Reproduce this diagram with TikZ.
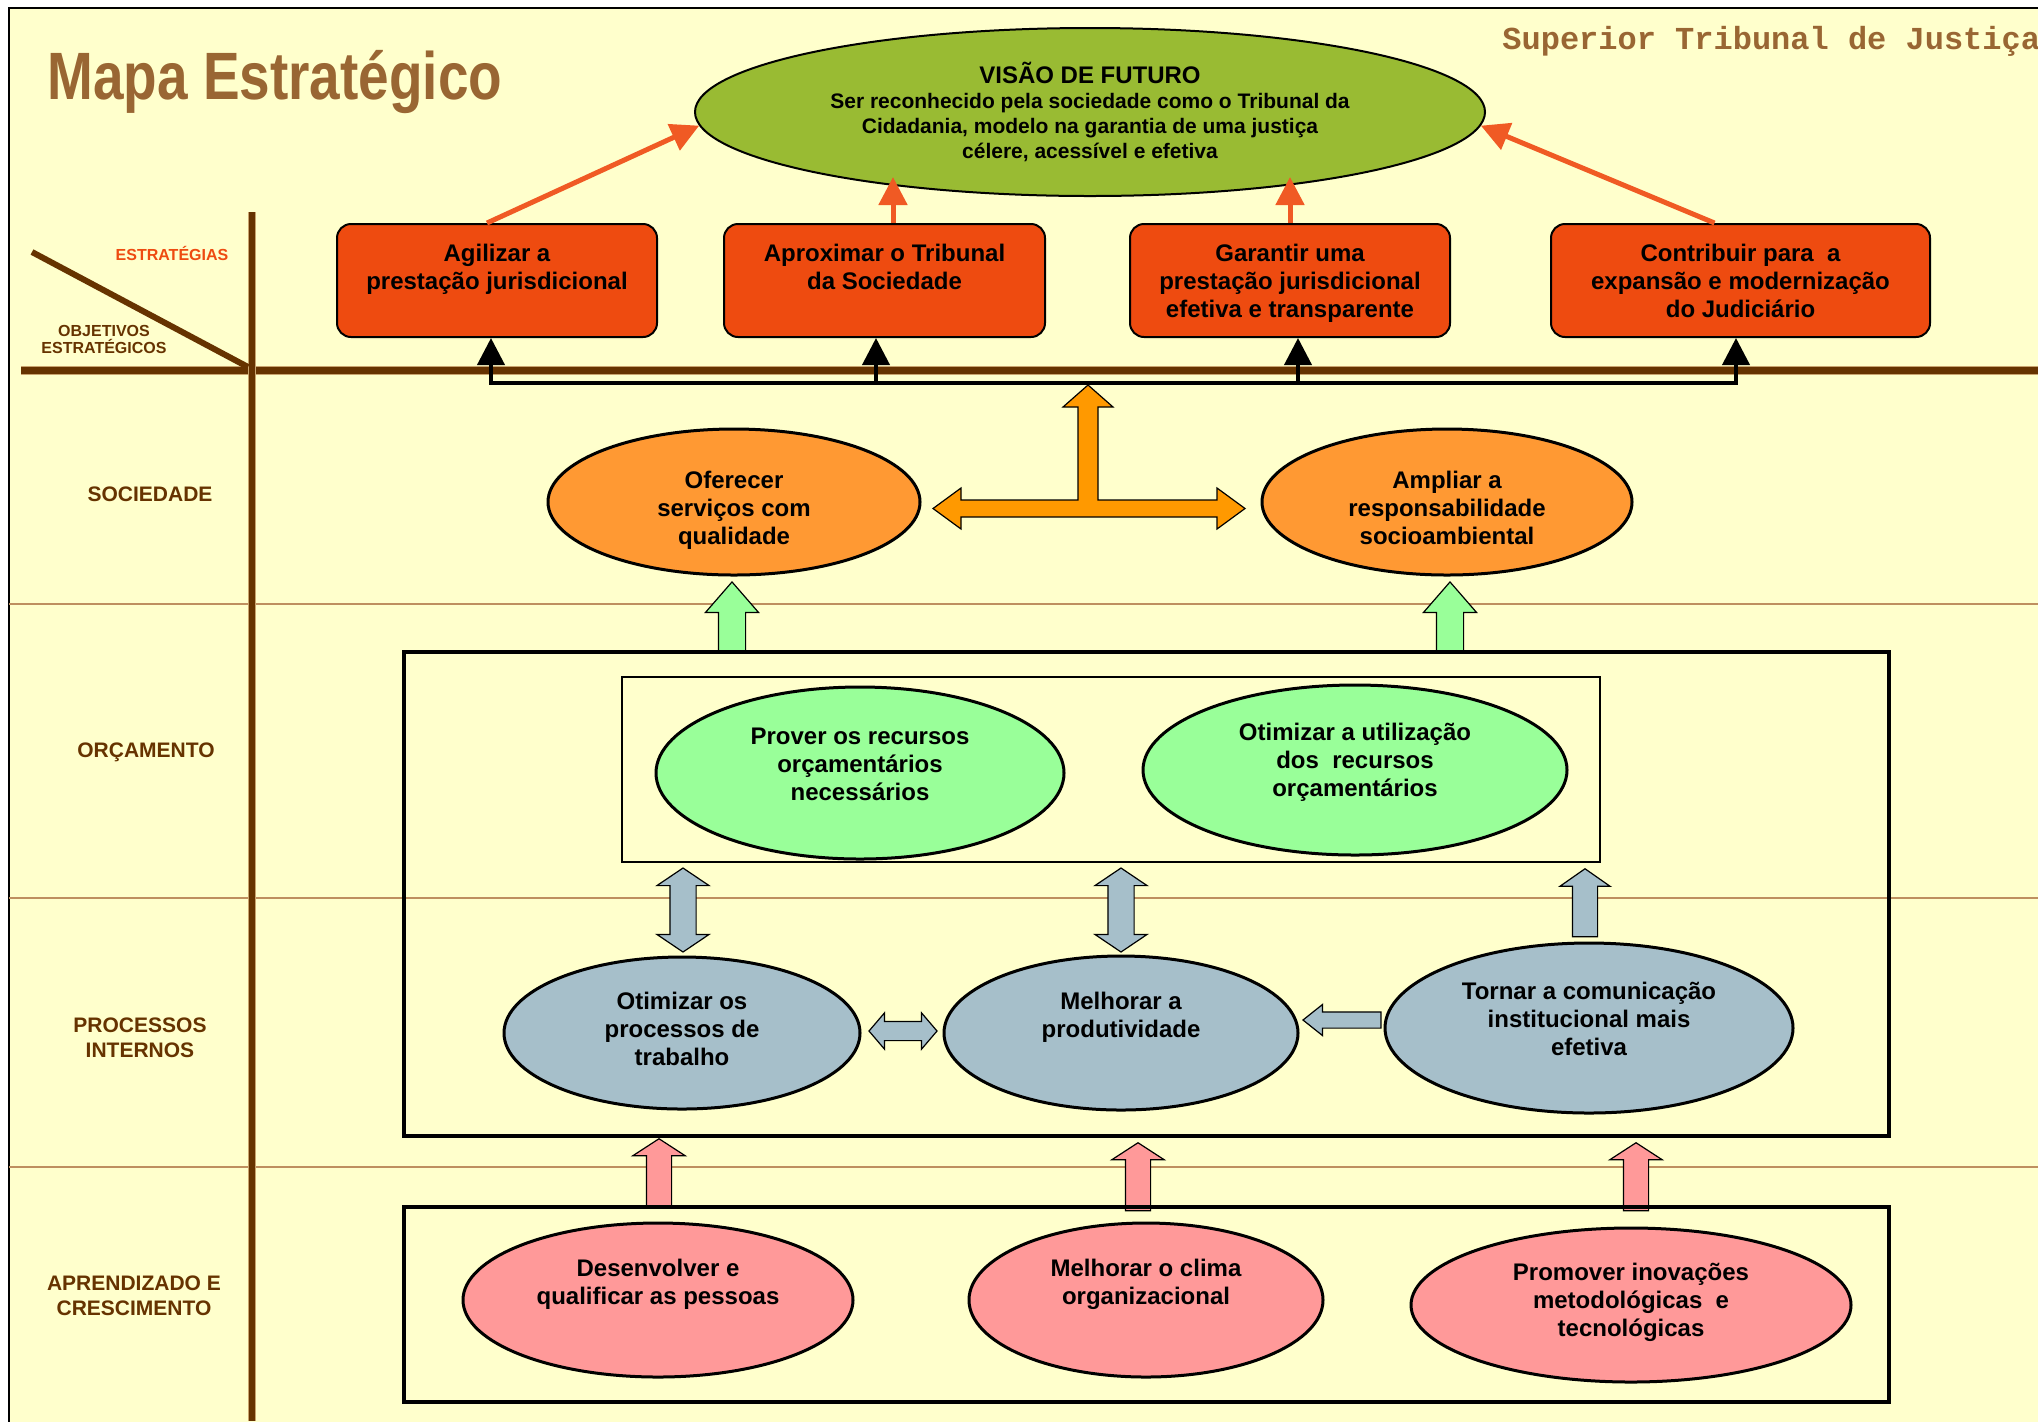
\documentclass[tikz,border=0pt]{standalone}
\usepackage{fontspec}
\setmainfont{Liberation Sans}
\newfontfamily\titlefont[FakeStretch=0.82]{Liberation Sans}
\newfontfamily\courierfont{Liberation Mono}
\usetikzlibrary{shapes.geometric,shapes.arrows,arrows.meta}

\definecolor{stjbg}{HTML}{FFFFCC}
\definecolor{stjbrown}{HTML}{663300}
\definecolor{stjtan}{HTML}{996633}
\definecolor{stjsep}{HTML}{BE8F5F}
\definecolor{stjedge}{HTML}{C9A46E}
\definecolor{stjred}{HTML}{EE4B10}
\definecolor{stjline}{HTML}{F05A24}
\definecolor{stjvisao}{HTML}{99BB33}
\definecolor{stjorange}{HTML}{FF9933}
\definecolor{stjamber}{HTML}{FF9900}
\definecolor{stjgreen}{HTML}{99FF99}
\definecolor{stjblue}{HTML}{A6BFCA}
\definecolor{stjpink}{HTML}{FF9999}

\tikzset{
  txt/.style={font=\bfseries\fontsize{12pt}{14pt}\selectfont, align=center},
  side/.style={font=\bfseries\fontsize{10.5pt}{12.5pt}\selectfont, align=center, text=stjbrown},
  strat/.style={txt, draw, line width=1pt, fill=stjred, rounded corners=7pt, minimum height=56.5pt},
  objective/.style={txt, ellipse, draw, line width=1.5pt},
  orangearrow/.style={-{Triangle[length=14pt,width=14pt]}, line width=2.5pt, draw=stjline, fill=stjline},
  blackarrow/.style={-{Triangle[length=13.5pt,width=13.5pt]}, line width=2pt},
  fatarrow/.style={draw, line width=0.6pt, inner xsep=0pt, single arrow, single arrow head indent=0pt, anchor=tip},
  fatdouble/.style={draw, line width=0.6pt, inner xsep=0pt, double arrow, double arrow head indent=0pt},
}

\begin{document}
\begin{tikzpicture}[x=0.5pt, y=-0.5pt, every node/.style={inner sep=0pt}]
      \useasboundingbox (0,0) rectangle (2038,1421);
      \clip (0,0) rectangle (2038,1421);
      % page and frame
      \fill[white] (0,0) rectangle (2038,1421);
      \draw[line width=0.75pt, fill=stjbg] (9,8) rectangle (2100,1500);
      % perspective separators
      \foreach \y in {604,898,1167}
        \draw[stjsep, line width=1pt] (9,\y) -- (2038,\y);
      % axes
      \draw[stjedge, line width=4.5pt] (21,370) -- (2038,370);
      \draw[stjbrown, line width=3.5pt] (21,370) -- (2038,370);
      \draw[stjedge, line width=4pt] (252,212) -- (252,1421);
      \draw[stjbrown, line width=3pt] (252,212) -- (252,1421);
      \draw[stjbrown, line width=3pt] (32,252) -- (248,367);
      % axis labels
      \node[font=\bfseries\fontsize{8pt}{8.5pt}\selectfont, text=stjred] (lblestr) at (172,253) {ESTRATÉGIAS};
      \node[font=\bfseries\fontsize{8pt}{8.5pt}\selectfont, align=center, text=stjbrown] (lblobj) at (104,339) {OBJETIVOS\\ESTRATÉGICOS};
      \node[side] (lblsoc) at (150,494) {SOCIEDADE};
      \node[side] (lblorc) at (146,752) {ORÇAMENTO};
      \node[side] (lblproc) at (140,1038) {PROCESSOS\\INTERNOS};
      \node[side] (lblapr) at (134,1296) {APRENDIZADO E\\CRESCIMENTO};
      % headings
      \node[anchor=base west, text=stjtan, font=\titlefont\bfseries\fontsize{33.5pt}{40pt}\selectfont] (titulo) at (47,99) {Mapa Estratégico};
      \node[anchor=base west, text=stjtan, font=\courierfont\bfseries\fontsize{16pt}{18pt}\selectfont] (stj) at (1502,49) {Superior Tribunal de Justiça};
      % vision
      \node[objective, line width=1pt, fill=stjvisao, minimum width=395pt, minimum height=84pt, font=\bfseries\fontsize{10.5pt}{12.5pt}\selectfont] (visao) at (1090,112)
        {{\fontsize{12pt}{14pt}\selectfont VISÃO DE FUTURO}\\Ser reconhecido pela sociedade como o Tribunal da\\Cidadania, modelo na garantia de uma justiça\\célere, acessível e efetiva};
      % strategies
      \node[strat, minimum width=160pt] (agilizar) at (497,280.5) {Agilizar a\\prestação jurisdicional\\\mbox{}};
      \node[strat, minimum width=160.5pt] (aproximar) at (884.5,280.5) {Aproximar o Tribunal\\da Sociedade\\\mbox{}};
      \node[strat, minimum width=160pt, label={[txt, yshift=-1.3pt]center:Garantir uma\\prestação jurisdicional\\efetiva e transparente}] (garantir) at (1290,280.5) {};
      \node[strat, minimum width=189.5pt] (contribuir) at (1740.5,280.5) {Contribuir para~ a\\expansão e modernização\\do Judiciário};
      % strategies to vision
      \coordinate (vis2) at (893,177);
      \coordinate (vis3) at (1290,177);
      \draw[orangearrow] ([xshift=-5pt]agilizar.north) -- (visao.182);
      \draw[orangearrow] (aproximar.north -| vis2) -- (vis2);
      \draw[orangearrow] (garantir.north -| vis3) -- (vis3);
      \draw[orangearrow] ([xshift=-13pt]contribuir.north) -- (visao.358);
      % objectives bus to strategies
      \coordinate (bus1) at (491,383);
      \coordinate (bus2) at (876,383);
      \coordinate (bus3) at (1298,383);
      \coordinate (bus4) at (1736,383);
      \draw[line width=2pt, line cap=rect] (bus1) -- (bus4);
      \foreach \b/\s in {bus1/agilizar, bus2/aproximar, bus3/garantir, bus4/contribuir}
        \draw[blackarrow] (\b) -- (\b |- \s.south);
      % society
      \draw[fill=stjamber, line width=0.6pt] (1088,385) -- (1113,407) -- (1098,407) -- (1098,500) -- (1217,500)
        -- (1217,488) -- (1245,508.5) -- (1217,529) -- (1217,517) -- (961,517) -- (961,529) -- (933,508.5)
        -- (961,488) -- (961,500) -- (1078,500) -- (1078,407) -- (1063,407) -- cycle;
      \node[objective, fill=stjorange, minimum width=186pt, minimum height=73pt,
        label={[txt, yshift=-4pt]center:Oferecer\\serviços com\\qualidade}] (oferecer) at (734,502) {};
      \node[objective, fill=stjorange, minimum width=185pt, minimum height=73pt,
        label={[txt, yshift=-3pt]center:Ampliar a\\responsabilidade\\socioambiental}] (ampliar) at (1447,502) {};
      % budget
      \foreach \x/\n in {732/upsoc1, 1450/upsoc2}
        \node[fatarrow, fill=stjgreen, rotate=90, minimum height=34.5pt, minimum width=26pt, inner ysep=6.5pt,
          single arrow head extend=6.5pt, single arrow tip angle=82] (\n) at (\x,581) {};
      \draw[line width=2pt] (404,652) rectangle (1889,1136);
      \draw[line width=0.75pt] (622,677) rectangle (1600,862);
      \node[objective, fill=stjgreen, minimum width=204pt, minimum height=86pt,
        label={[txt, yshift=4.5pt]center:Prover os recursos\\orçamentários\\necessários}] (prover) at (860,773) {};
      \node[objective, fill=stjgreen, minimum width=212pt, minimum height=85pt,
        label={[txt, yshift=4pt]center:Otimizar a utilização\\dos~ recursos\\orçamentários}] (otimrec) at (1355,770) {};
      % internal processes
      \foreach \x/\n in {683/dbl1, 1121/dbl2}
        \node[fatdouble, fill=stjblue, rotate=90, minimum height=42pt, minimum width=25.5pt, inner ysep=6.25pt,
          double arrow head extend=6.5pt, double arrow tip angle=112] (\n) at (\x,910) {};
      \node[fatarrow, fill=stjblue, rotate=90, minimum height=34pt, minimum width=24.5pt, inner ysep=6pt,
        single arrow head extend=6.25pt, single arrow tip angle=110] (upcom) at (1585,868) {};
      \node[objective, fill=stjblue, minimum width=178pt, minimum height=76pt,
        label={[txt, yshift=2pt]center:Otimizar os\\processos de\\trabalho}] (otimproc) at (682,1033) {};
      \node[objective, fill=stjblue, minimum width=177pt, minimum height=77pt,
        label={[txt, yshift=2pt]center:Melhorar a\\produtividade\\\mbox{}}] (produtiv) at (1121,1033) {};
      \node[objective, fill=stjblue, minimum width=204pt, minimum height=85pt,
        label={[txt, yshift=4.5pt]center:Tornar a comunicação\\institucional mais\\efetiva}] (comunic) at (1589,1028) {};
      \node[fatdouble, fill=stjblue, minimum height=34pt, minimum width=17.5pt, inner ysep=4.5pt,
        double arrow head extend=4.25pt, double arrow tip angle=99] (dblproc) at (903,1031) {};
      \node[fatarrow, fill=stjblue, rotate=180, minimum height=39pt, minimum width=15pt, inner ysep=3.75pt,
        single arrow head extend=3.75pt, single arrow tip angle=77] (leftcom) at (1302,1020) {};
      % learning and growth
      \foreach \x/\y/\n in {659/1138/upapr1, 1138/1142/upapr2, 1636/1142/upapr3}
        \node[fatarrow, fill=stjpink, rotate=90, minimum height=34pt, minimum width=25.5pt, inner ysep=6pt,
          single arrow head extend=6.75pt, single arrow tip angle=114] (\n) at (\x,\y) {};
      \draw[line width=2pt] (404,1207) rectangle (1889,1402);
      \node[objective, fill=stjpink, minimum width=195pt, minimum height=77pt,
        label={[txt, yshift=2pt]center:Desenvolver e\\qualificar as pessoas\\\mbox{}}] (desenv) at (658,1300) {};
      \node[objective, fill=stjpink, minimum width=177pt, minimum height=77pt,
        label={[txt, yshift=2pt]center:Melhorar o clima\\organizacional\\\mbox{}}] (clima) at (1146,1300) {};
      \node[objective, fill=stjpink, minimum width=220pt, minimum height=77pt,
        label={[txt, yshift=1.5pt]center:Promover inovações\\metodológicas~ e\\tecnológicas}] (inovacoes) at (1631,1305) {};
\end{tikzpicture}
\end{document}
